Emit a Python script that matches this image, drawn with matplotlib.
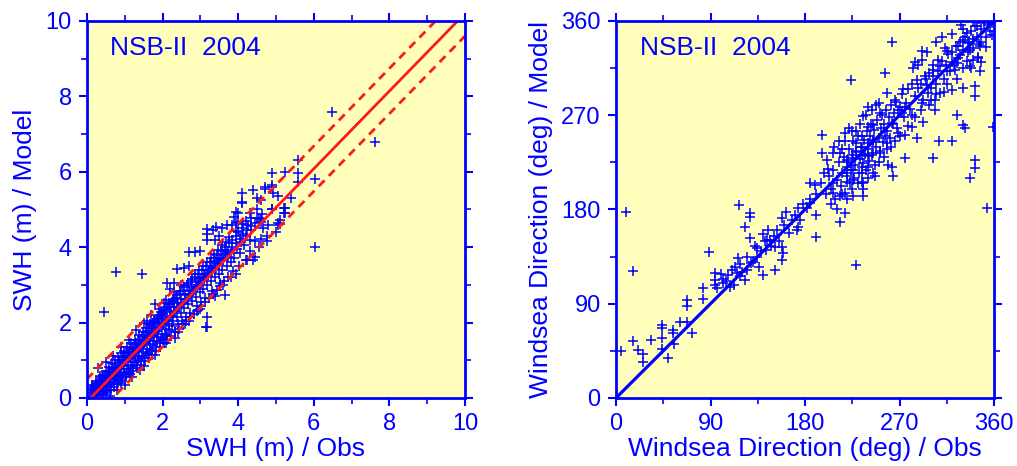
import numpy as np
import matplotlib
matplotlib.use('Agg')
from matplotlib import pyplot as plt
from matplotlib.ticker import MultipleLocator

# SWH scatter: (obs, model) pairs
swh_pairs = [
    # dense core near origin
    (0.10,0.05),(0.15,0.20),(0.18,0.08),(0.20,0.30),(0.22,0.15),(0.25,0.40),(0.28,0.10),(0.30,0.25),(0.32,0.45),(0.35,0.18),
    (0.38,0.35),(0.40,0.55),(0.42,0.12),(0.45,0.30),(0.48,0.62),(0.50,0.45),(0.52,0.22),(0.55,0.70),(0.58,0.40),(0.60,0.55),
    (0.62,0.30),(0.65,0.80),(0.68,0.50),(0.70,0.65),(0.72,0.38),(0.75,0.90),(0.78,0.58),(0.80,0.75),(0.82,0.45),(0.85,1.00),
    (0.88,0.68),(0.90,0.85),(0.92,0.55),(0.95,1.10),(0.98,0.78),(1.00,0.95),(1.02,0.62),(1.05,1.20),(1.08,0.88),(1.10,1.05),
    (1.12,0.70),(1.15,1.30),(1.18,0.95),(1.20,1.15),(1.22,0.80),(1.25,1.42),(1.28,1.05),(1.30,1.25),(1.32,0.88),(1.35,1.55),
    (1.38,1.12),(1.40,1.35),(1.42,0.98),(1.45,1.65),(1.48,1.22),(1.50,1.45),(1.52,1.05),(1.55,1.75),(1.58,1.30),(1.60,1.55),
    (1.62,1.15),(1.65,1.85),(1.68,1.42),(1.70,1.65),(1.72,1.25),(1.75,2.00),(1.78,1.52),(1.80,1.75),(1.82,1.35),(1.85,2.10),
    (1.88,1.62),(1.90,1.88),(1.92,1.45),(1.95,2.20),(1.98,1.70),(2.00,1.95),(2.02,1.55),(2.05,2.30),(2.08,1.82),(2.10,2.05),
    (0.12,0.25),(0.16,0.12),(0.24,0.22),(0.27,0.05),(0.33,0.30),(0.36,0.50),(0.41,0.28),(0.44,0.45),(0.47,0.20),(0.53,0.58),
    (0.56,0.35),(0.61,0.68),(0.64,0.42),(0.69,0.78),(0.73,0.55),(0.77,0.70),(0.81,0.62),(0.86,0.85),(0.89,0.40),(0.93,0.95),
    (0.97,0.65),(1.01,1.10),(1.06,0.78),(1.11,1.22),(1.16,0.85),(1.21,1.35),(1.26,0.95),(1.31,1.45),(1.36,1.00),(1.41,1.55),
    (1.46,1.10),(1.51,1.68),(1.56,1.20),(1.61,1.78),(1.66,1.30),(1.71,1.90),(1.76,1.40),(1.81,2.02),(1.86,1.50),(1.91,2.12),
    (1.96,1.60),(2.01,2.22),(2.06,1.70),(2.11,2.35),(2.16,1.80),(2.21,2.48),(2.26,1.90),(2.31,2.58),
    # wider spread, 0-4.3 m
    (0.14,0.35),(0.19,0.02),(0.23,0.45),(0.29,0.18),(0.34,0.58),(0.37,0.08),(0.43,0.62),(0.46,0.10),(0.51,0.72),(0.54,0.15),
    (0.57,0.82),(0.63,0.22),(0.66,0.92),(0.71,0.30),(0.74,1.00),(0.79,0.38),(0.83,1.08),(0.87,0.45),(0.91,1.18),(0.94,0.50),
    (0.99,1.25),(1.03,0.56),(1.07,1.35),(1.13,0.64),(1.17,1.45),(1.23,0.72),(1.27,1.55),(1.33,0.80),(1.37,1.66),(1.43,0.88),
    (1.47,1.75),(1.53,0.98),(1.57,1.86),(1.63,1.06),(1.67,1.95),(1.73,1.15),(1.77,2.05),(1.83,1.24),(1.87,2.18),(1.93,1.34),
    (1.97,2.28),(2.03,1.45),(2.07,2.40),(2.13,1.55),(2.17,2.50),(2.23,1.64),(2.27,2.62),(2.33,1.74),(2.37,2.72),(2.43,1.84),
    (2.47,2.85),(2.53,1.95),(2.57,2.95),(2.63,2.04),(2.67,3.05),(2.73,2.14),(2.77,3.16),(2.83,2.24),(2.87,3.28),(2.93,2.34),
    (2.97,3.40),(3.03,2.45),(3.07,3.50),(3.13,2.55),(3.17,3.60),(3.23,2.64),(3.27,3.72),(3.33,2.76),(3.37,3.82),(3.43,2.86),
    (3.47,3.92),(3.53,2.98),(3.57,4.05),(3.63,3.10),(3.67,4.15),(3.73,3.20),(3.77,4.28),(3.87,3.36),(3.93,4.42),(4.03,3.50),
    (4.13,4.62),(4.23,3.65),(4.33,4.78),
    # along the line
    (0.11,0.15),(0.17,0.28),(0.21,0.22),(0.26,0.32),(0.31,0.38),(0.39,0.42),(0.46,0.52),(0.49,0.38),(0.57,0.62),(0.59,0.50),
    (0.67,0.70),(0.74,0.68),(0.76,0.80),(0.84,0.78),(0.87,0.95),(0.96,0.88),(0.99,1.02),(1.04,0.98),(1.09,1.12),(1.14,1.08),
    (1.19,1.22),(1.24,1.18),(1.29,1.32),(1.34,1.28),(1.39,1.42),(1.44,1.38),(1.49,1.52),(1.54,1.48),(1.59,1.62),(1.64,1.58),
    (1.69,1.72),(1.74,1.68),(1.79,1.82),(1.84,1.78),(1.89,1.95),(1.94,1.88),(1.99,2.05),(2.04,1.98),(2.09,2.15),(2.14,2.08),
    (2.19,2.28),(2.24,2.18),(2.29,2.40),(2.34,2.30),(2.39,2.52),(2.44,2.42),(2.49,2.62),(2.54,2.52),(2.59,2.75),(2.64,2.62),
    (2.69,2.85),(2.74,2.75),(2.79,2.95),(2.84,2.88),(2.89,3.08),(2.94,3.00),(2.99,3.18),(3.04,3.12),(3.09,3.28),(3.14,3.22),
    (3.19,3.40),(3.24,3.35),(3.29,3.50),(3.34,3.45),(3.39,3.62),(3.44,3.58),(3.49,3.72),(3.54,3.68),(3.59,3.82),(3.64,3.78),
    (3.69,3.92),(3.74,3.88),(3.84,4.00),(3.94,4.12),(4.04,4.22),(4.14,4.35),(4.24,4.45),(4.34,4.55),(4.44,4.65),(4.54,4.78),
    (4.64,4.88),
    # edges of the cloud
    (0.30,0.80),(0.50,0.95),(0.70,1.10),(0.90,1.35),(1.10,1.55),(1.30,1.80),(1.50,1.98),(1.70,2.20),(1.90,2.35),(2.10,2.60),
    (2.30,2.80),(2.50,3.00),(0.60,0.05),(0.80,0.20),(1.00,0.35),(1.20,0.55),(1.50,0.85),(1.80,1.15),(2.10,1.45),(2.40,1.75),
    (2.70,2.05),(3.00,2.35),(2.33,1.59),(3.15,1.88),
    # 2 to 4.3 m
    (2.12,1.65),(2.15,2.40),(2.18,1.95),(2.20,2.15),(2.25,2.55),(2.28,2.05),(2.30,2.30),(2.32,1.75),(2.35,2.65),(2.38,2.15),
    (2.40,2.40),(2.42,1.95),(2.45,2.75),(2.48,2.25),(2.50,2.50),(2.52,2.05),(2.55,2.85),(2.58,2.38),(2.60,2.62),(2.62,2.15),
    (2.65,3.00),(2.68,2.48),(2.70,2.72),(2.72,2.25),(2.75,3.10),(2.78,2.58),(2.80,2.85),(2.85,3.20),(2.88,2.68),(2.90,2.95),
    (2.92,2.45),(2.95,3.30),(2.98,2.80),(3.00,3.05),(3.02,2.55),(3.05,3.40),(3.08,2.90),(3.10,3.15),(3.12,2.65),(3.15,3.50),
    (3.18,3.00),(3.20,3.25),(3.25,3.60),(3.28,3.10),(3.30,3.35),(3.32,2.85),(3.35,3.70),(3.38,3.20),(3.40,3.45),(3.45,3.80),
    (3.48,3.30),(3.50,3.55),(3.52,3.05),(3.55,3.90),(3.58,3.40),(3.60,3.65),(3.65,4.00),(3.70,3.50),(3.72,3.75),(3.75,4.10),
    (3.80,3.60),(3.82,3.85),(3.85,4.20),(3.90,3.70),(3.95,4.30),(3.98,3.95),(4.00,4.40),(4.05,3.85),(4.08,4.15),(4.10,4.50),
    (4.15,4.05),(4.20,4.30),(4.25,4.60),(4.30,4.20),(4.35,4.45),
    # scattered points
    (2.56,3.44),(2.30,3.06),(2.05,2.53),(1.60,2.03),(2.85,3.88),(3.17,4.47),(3.17,4.20),(3.41,4.53),(3.70,4.59),(3.33,4.45),
    (3.57,4.52),(3.83,4.58),(2.11,3.04),(2.37,3.41),(3.17,1.89),(3.17,2.15),(3.65,2.73),(4.40,3.66),(4.20,3.66),(4.60,4.22),
    (4.76,4.17),(4.45,3.73),(4.45,4.16),(3.94,3.30),(3.94,4.92),(3.94,4.65),(3.40,4.20),(4.00,4.90),(4.00,4.67),(4.09,5.43),
    (4.09,5.17),(4.38,5.52),(4.09,5.20),(4.60,5.25),(4.60,4.76),(4.60,4.68),(4.70,5.55),(4.89,5.60),(4.93,5.45),(4.89,5.02),
    (5.20,5.05),(5.20,4.90),(5.40,5.30),(4.50,5.30),(4.50,4.78),(5.10,4.73),(5.10,4.62),(4.76,4.30),(5.06,5.36),(4.89,5.00),
    (5.24,5.05),(5.24,4.90),(5.06,4.65),(5.06,4.58),(4.70,5.60),(4.89,5.65),(4.89,5.98),(5.24,6.00),(5.59,5.98),(5.59,5.72),
    (5.58,6.31),(6.03,5.80),(6.03,4.00),(6.47,7.59),(7.62,6.80),(0.78,3.35),(1.45,3.29),(0.45,2.28),(2.71,3.88),(3.17,4.35),
    (4.20,4.70),(4.30,4.90),(4.50,5.00),(4.65,4.50),(4.80,4.60),(4.30,3.90),(4.55,4.00),(5.00,4.40),(3.80,3.20),(3.60,3.00),
    (3.90,4.80),(3.50,4.30),(3.00,3.90),(2.70,3.50),(2.90,2.30),(2.20,2.90),(1.80,2.50),(2.60,1.95),(3.40,2.70),(1.40,0.75),
]

# regression line and +/- band of the SWH panel
fit_slope = 1.03
fit_intercept = -0.10
fit_band = 0.60

# Windsea direction scatter: (obs, model) pairs in degrees
dir_pairs = [
    (9.5,178),(15.9,121.7),(4.4,45.2),(15.9,54.8),(21.3,45.9),(26,42),(26,34.7),(33,55.4),(43.5,69.7),(43.5,66.6),
    (43.5,57),(43.5,46.5),(49.8,37.9),(54.6,65),(54.6,61.8),(55,52),(61,73),(67.3,93.6),(67.3,87.9),(67.3,73),
    (72,61.8),(83.2,104.8),(83.2,94.3),(88.9,139.8),(94.3,119),(94.3,112.7),(94.3,108),(96.5,104.8),(102,114),(102,109.6),
    (107,117.5),(109,106),(113,125.5),(115,119),(117.5,184.4),(116.5,133.4),(118,116),(123,163.7),(123,112.7),(124.4,122.3),
    (127.6,176.4),(127.6,173),(128,152.5),(129,128.7),(134,143),(134,135),(136.5,125.5),(140,157),(143.5,151),(143,141),
    (139.7,117.5),(145,160.5),(147,151),(151.4,144.6),(151.4,122.3),(153,160.5),(157.8,144.6),(158.7,138),(157.8,131.8),(157.8,171.7),
    (162,178),(167.3,170),(172,160.5),(173.7,163.7),(173.7,181),(181.6,181),(184.8,186),(190.5,175),(190.5,154),(184.8,205),
    (189.5,203.5),(196,251),(196,233.8),(200.6,227),(202,219),(207,233.8),(207,205),(207,195.5),(213,192.4),(213,168.5),
    (218,253),(218,245),(218,176.4),(213,233.8),(219.7,227),(219.7,221),(219.7,215),(219.7,206.7),(223.5,303.8),(226,229),
    (226,217.8),(226,208),(226,192.4),(229,255),(229,243),(229,235),(229,127),(234,249.7),(234,240),(234,232),
    (234,221),(234,214.6),(235.5,268.8),(235.5,205),(235.5,192.4),(240,278),(240,259),(240,243),(240,230.6),(240,221),
    (245,260.8),(245,246.5),(245,234),(246.7,211.5),(250,281.5),(251,272),(251,234),(256,310),(257.8,291),(257.8,243),
    (259.4,222.6),(262.5,340),(262.5,262.4),(262.5,221),(264,211.5),(267,283),(268.9,275),(268.9,252.9),(272,272),(273.7,295),
    (275,277.6),(275,251),(275,229),(281.6,270),(281.6,259),(285,321),(286.3,304),(286.3,247.8),(291,331),(291,323),
    (291,281.5),(292.7,264),(294,307),(296,299),(297.5,291),(302,229),(302,313),(302,307),(303.8,284.7),(303.8,275),
    (306.7,323),(308.6,316.6),(308.6,291),(308,245),(313.3,334),(315,331),(315,312),(319.7,321),(319.7,245),(319.7,294),
    (323,313),(324.4,319.7),(324.4,270.4),(326,335.7),(327.6,327.7),(329,356),(330.8,342),(330.8,315),(330.8,296),(330.8,260.8),
    (332.4,257.6),(334,348.7),(335.6,339),(337,332.5),(337,316.6),(337,209.9),(340.3,342.7),(340.3,323),(342,297.5),(342,288),
    (342,227),(342,219.4),(343.5,354.8),(345,326),(346.7,335.7),(348,321),(346.7,312),(353,181),(357.8,346.8),(359.4,259),
    # dense cluster around 200-280 deg
    (200,195),(203,212),(205,200),(207,218),(209,190),(210,208),(212,225),(214,202),(215,215),(217,230),
    (218,196),(220,212),(221,225),(222,238),(223,205),(224,218),(225,232),(226,245),(227,210),(228,222),
    (229,236),(230,250),(231,215),(232,228),(233,240),(234,206),(235,224),(236,246),(237,233),(238,218),
    (239,255),(240,238),(241,226),(242,250),(243,262),(244,232),(245,244),(246,256),(247,222),(248,240),
    (249,265),(250,248),(251,236),(252,258),(253,270),(254,244),(255,262),(256,250),(257,275),(258,255),
    (260,268),(261,248),(262,280),(264,262),(265,272),(266,285),(268,258),(270,278),(272,290),(274,268),
    (276,282),(278,295),(280,276),(282,300),
    (205,185),(210,180),(215,195),(220,190),(225,200),(230,205),(235,200),(240,210),(245,215),(250,225),
    (255,230),(258,238),(262,240),(266,245),(270,250),(278,260),(285,268),(290,275),(298,280),(305,290),
    (312,292),(208,240),(212,245),(215,238),(222,258),(225,255),(232,262),(238,270),(244,275),(248,280),
    # 90-200 deg band
    (100,118),(105,112),(110,122),(112,108),(118,128),(120,120),(125,135),(130,130),(132,145),(138,140),
    (142,150),(148,145),(150,155),(155,150),(160,165),(165,158),(170,175),(175,170),(178,185),(185,190),
    (190,195),(195,205),(198,215),
    # upper cluster 285-360 deg
    (285,288),(288,296),(290,300),(292,285),(295,305),(298,310),(300,296),(302,318),(305,300),(307,312),
    (310,322),(312,305),(314,318),(316,328),(318,312),(320,330),(322,318),(324,336),(326,325),(328,340),
    (330,332),(332,345),(334,322),(336,340),(338,350),(340,334),(342,355),(344,345),(346,338),(348,352),
    (350,358),(352,345),(354,356),(356,350),(358,358),(335,330),(338,315),(345,325),(325,305),(315,300),
    (300,285),(345,362),(350,364),(355,361),(340,360),(352,335),(348,340),(283,315),(288,318),(296,330),
    (305,340),(310,345),(320,348),(330,352),
]

panel_title = 'NSB-II  2004'
swh_ticks = [0, 2, 4, 6, 8, 10]
dir_ticks = [0, 90, 180, 270, 360]

blue = '#0000FF'
red = '#FF1A1A'
bg = '#FFFFBB'

plt.rcParams['font.family'] = ['Liberation Sans', 'DejaVu Sans']

fig = plt.figure(figsize=(10.17, 4.66), dpi=100)
ax1 = fig.add_axes([0.0855, 0.146, 0.3717, 0.809])
ax2 = fig.add_axes([0.6057, 0.146, 0.3717, 0.809])

def style_axes(ax, lim, major, minor):
    ax.set_facecolor(bg)
    ax.set_xlim(0, lim)
    ax.set_ylim(0, lim)
    for s in ax.spines.values():
        s.set_color(blue)
        s.set_linewidth(2.0)
    ax.xaxis.set_major_locator(MultipleLocator(major))
    ax.yaxis.set_major_locator(MultipleLocator(major))
    ax.xaxis.set_minor_locator(MultipleLocator(minor))
    ax.yaxis.set_minor_locator(MultipleLocator(minor))
    ax.tick_params(which='both', direction='out', color=blue, labelcolor=blue,
                   top=True, right=True, labelsize=17)
    ax.tick_params(which='major', length=6, width=1.5, pad=5)
    ax.tick_params(which='minor', length=4, width=1.2)

# left panel: SWH
style_axes(ax1, 10, 2, 1)
ax1.set_xticks(swh_ticks)
ax1.set_yticks(swh_ticks)
xs = np.array([p[0] for p in swh_pairs])
ys = np.array([p[1] for p in swh_pairs])
ax1.plot(xs, ys, '+', color=blue, ms=7, mew=1.1)
xl = np.array([0, 10])
ax1.plot(xl, fit_slope*xl + fit_intercept, color=red, lw=2.0)
ax1.plot(xl, fit_slope*xl + fit_intercept + fit_band, color=red, lw=2.0, dashes=(3, 2.2))
ax1.plot(xl, fit_slope*xl + fit_intercept - fit_band, color=red, lw=2.0, dashes=(3, 2.2))
ax1.text(0.06, 0.928, panel_title, transform=ax1.transAxes, color=blue,
         fontsize=19, va='center', ha='left')
ax1.set_xlabel('SWH (m) / Obs', color=blue, fontsize=19, labelpad=1)
ax1.set_ylabel('SWH (m) / Model', color=blue, fontsize=19, labelpad=6)

# right panel: windsea direction
style_axes(ax2, 360, 90, 45)
ax2.set_xticks(dir_ticks)
ax2.set_yticks(dir_ticks)
dx = np.array([p[0] for p in dir_pairs])
dy = np.array([p[1] for p in dir_pairs])
ax2.plot(dx, dy, '+', color=blue, ms=7, mew=1.1)
ax2.plot([0, 360], [0, 360], color=blue, lw=2.3)
ax2.text(0.063, 0.928, panel_title, transform=ax2.transAxes, color=blue,
         fontsize=19, va='center', ha='left')
ax2.set_xlabel('Windsea Direction (deg) / Obs', color=blue, fontsize=19, labelpad=1)
ax2.set_ylabel('Windsea Direction (deg) / Model', color=blue, fontsize=19, labelpad=6)

fig.savefig('out.png', dpi=100, facecolor='white')
